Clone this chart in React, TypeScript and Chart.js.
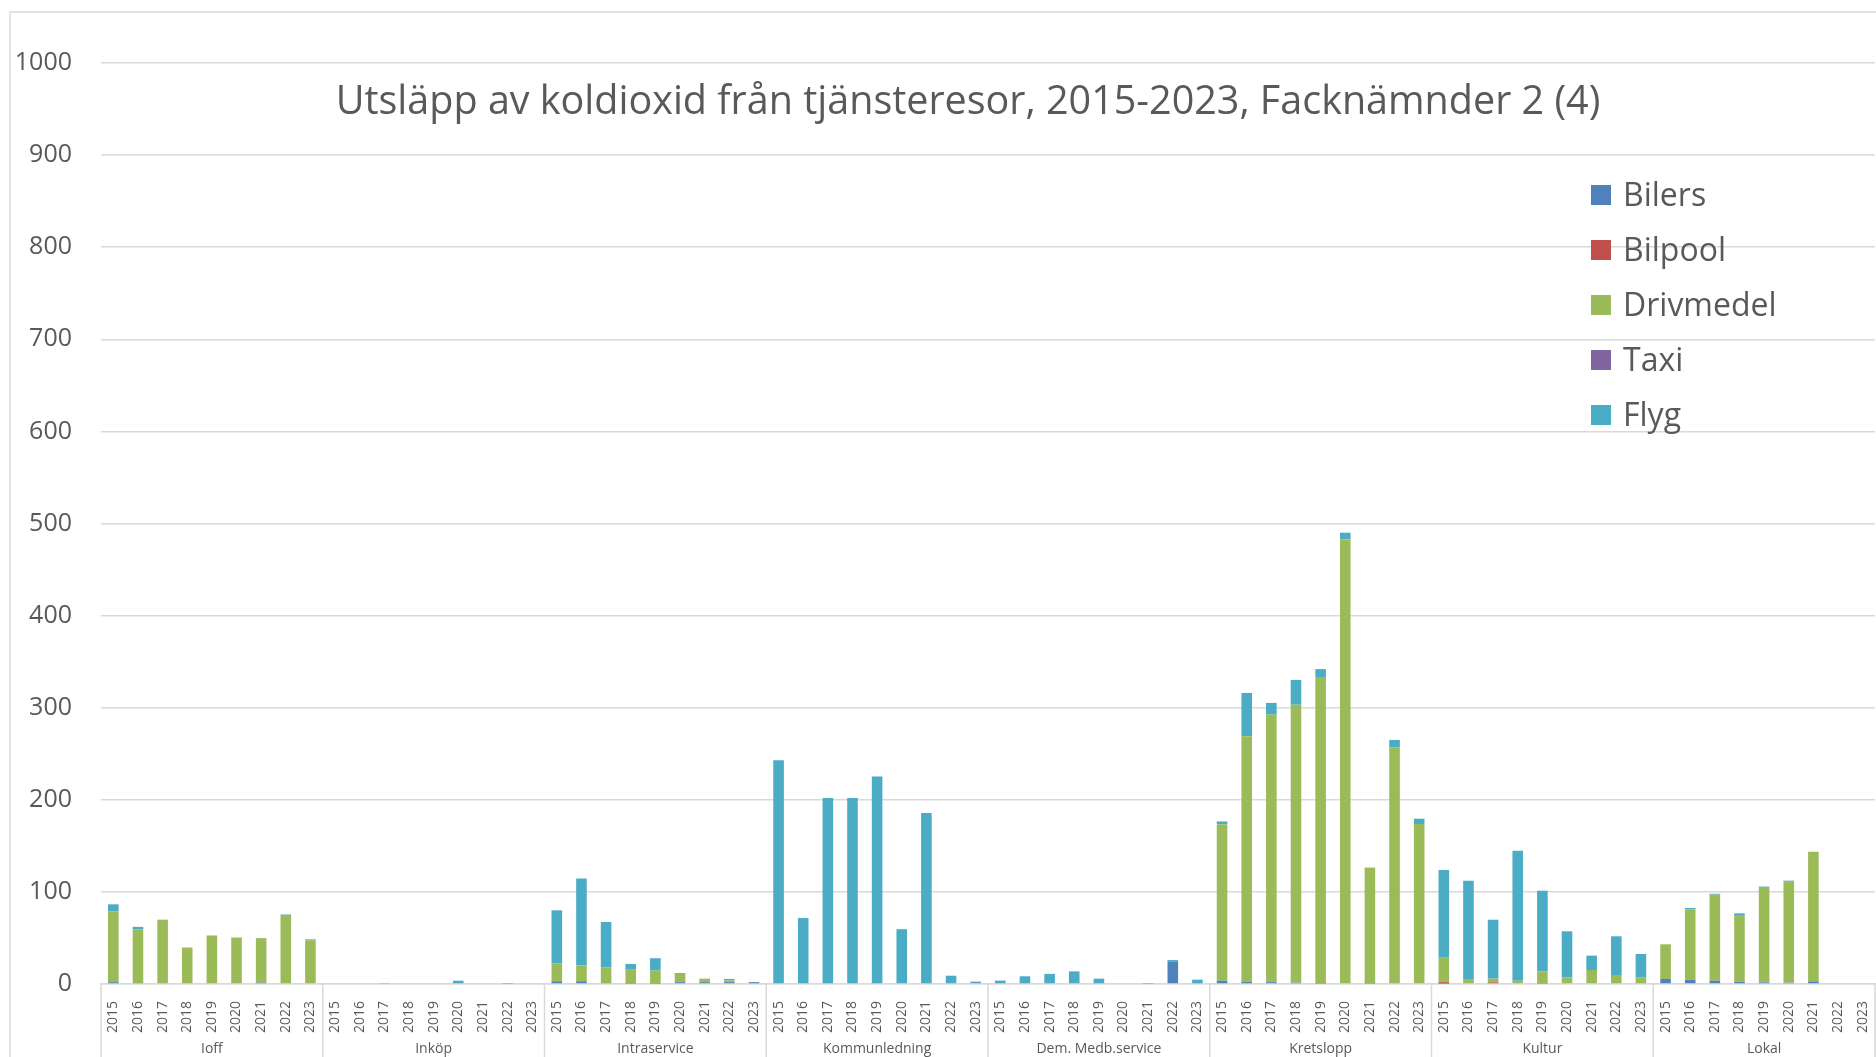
import React, { useEffect, useRef } from "react";
import { Chart, registerables } from "chart.js";

Chart.register(...registerables);

const TITLE = "Utsläpp av koldioxid från tjänsteresor, 2015-2023, Facknämnder 2 (4)";
const groups = ["Ioff", "Inköp", "Intraservice", "Kommunledning", "Dem. Medb.service", "Kretslopp", "Kultur", "Lokal"];
const years = ["2015", "2016", "2017", "2018", "2019", "2020", "2021", "2022", "2023"];
const yTicks = [0, 100, 200, 300, 400, 500, 600, 700, 800, 900, 1000];

// values per category (groups x years, in order)
const bilers = [
  2, 1, 0, 0, 0, 0, 1.5, 0, 0,
  0, 0, 0, 0, 0, 0, 0, 0, 0,
  3, 3, 1, 0.5, 0.5, 2, 2, 2, 2,
  0, 0, 0, 0, 0, 0, 0, 0, 0,
  0, 0, 0, 0, 0, 0, 0, 24, 0,
  3.5, 2.5, 2, 1.5, 0.5, 0, 0.5, 0, 0,
  0.5, 0, 0, 0, 0.5, 0, 0, 0, 0,
  5.5, 4.7, 3.6, 2.5, 1.8, 1.5, 2.9, 0, 0,
];
const bilpool = [
  0, 0, 0, 0, 0, 0, 0, 0, 0,
  0, 0, 0, 0, 0, 0, 0, 0, 0,
  0, 0, 0, 0, 0, 0, 0, 0, 0,
  1, 0, 0, 0, 0, 0, 0, 0, 0,
  0, 0, 0, 0, 0, 0, 0, 0, 0,
  0, 0, 0, 0, 0, 0, 0, 0, 0,
  1.5, 0, 1.8, 0, 0, 0, 0, 0, 0,
  0, 0, 0, 0, 0, 0, 0, 0, 0,
];
const drivmedel = [
  77, 58.5, 69.5, 39.6, 52.7, 50.5, 48.3, 75, 47.5,
  0, 0, 0, 0, 0, 0, 0, 0, 0,
  19.5, 17, 16.8, 15, 14, 10, 3.8, 2, 0,
  0, 0, 0, 0, 0, 0, 0, 0, 0,
  0, 0, 0, 0, 0, 0, 0, 0, 0,
  170, 266.5, 290.5, 301.7, 332.7, 483, 125.5, 257, 173.7,
  26.5, 5.4, 4, 3.6, 13, 7.2, 15.2, 9.8, 6.9,
  37.6, 76.3, 93.4, 72.4, 103.5, 109.5, 140.7, 0, 0,
];
const taxi = [
  0, 0, 0, 0, 0, 0, 0, 0, 0,
  0, 0, 0, 0, 0, 0, 0, 0, 0,
  0, 0, 0, 0, 0, 0, 0, 0, 0,
  0, 0, 0, 0, 0, 0, 0, 0, 0,
  0, 0, 0, 0, 0, 0, 0, 0, 0,
  0, 0, 0, 0, 0, 0, 0, 0, 0,
  0, 0, 0, 0, 0, 0, 0, 0, 0,
  0, 0, 0, 0, 0, 0, 0, 0, 0,
];
const flyg = [
  7.5, 2.5, 0.3, 0, 0, 0, 0, 0.5, 1,
  0, 0, 0.5, 0, 0, 3.6, 0, 0.3, 0,
  57.5, 94.5, 49.5, 6.3, 13.5, 0, 0, 1.5, 0.2,
  242, 71.6, 202, 202, 225.3, 59.5, 185.8, 9, 2.6,
  3.7, 8.4, 11, 13.7, 5.8, 0, 0.3, 2, 4.7,
  3, 47, 12.7, 27, 8.7, 7, 0.4, 8, 5.8,
  95.2, 106.8, 64, 141, 87.8, 50, 15.6, 42, 25.7,
  0, 1.5, 1, 1.8, 0.5, 1.2, 0, 0, 0,
];

const seriesNames = ["Bilers", "Bilpool", "Drivmedel", "Taxi", "Flyg"];
const seriesColors = ["#4F81BD", "#C0504D", "#9BBB59", "#8064A2", "#4BACC6"];
const seriesValues = [bilers, bilpool, drivmedel, taxi, flyg];

const FONT = "'Open Sans', 'Liberation Sans', sans-serif";
const TEXT = "#595959";
const GRID = "#d9d9d9";

const decorPlugin = {
  id: "decor",
  afterDraw(chart: any) {
    const ctx = chart.ctx;
    const area = chart.chartArea;
    const xs = chart.scales.x;
    ctx.save();
    // outer border
    ctx.strokeStyle = GRID;
    ctx.lineWidth = 1.5;
    ctx.strokeRect(10, 12, chart.width + 20, chart.height + 20);

    // title
    ctx.fillStyle = TEXT;
    ctx.font = `39.5px ${FONT}`;
    ctx.textAlign = "center";
    ctx.textBaseline = "alphabetic";
    ctx.fillText(TITLE, 968, 114);

    // legend
    ctx.textAlign = "left";
    ctx.font = `32px ${FONT}`;
    chart.data.datasets.forEach((ds: any, i: number) => {
      const y = 195 + i * 55;
      ctx.fillStyle = ds.backgroundColor;
      ctx.fillRect(1591, y - 10, 20, 20);
      ctx.fillStyle = TEXT;
      ctx.fillText(ds.label, 1623, y + 11);
    });

    // group separators and labels
    const n = years.length;
    ctx.strokeStyle = GRID;
    ctx.lineWidth = 1.5;
    ctx.font = `14px ${FONT}`;
    ctx.textAlign = "center";
    ctx.textBaseline = "middle";
    for (let g = 0; g <= groups.length; g++) {
      let x;
      if (g === 0) x = area.left;
      else if (g === groups.length) x = area.right;
      else x = (xs.getPixelForValue(g * n - 1) + xs.getPixelForValue(g * n)) / 2;
      ctx.beginPath();
      ctx.moveTo(x, area.bottom);
      ctx.lineTo(x, chart.height);
      ctx.stroke();
    }
    ctx.fillStyle = TEXT;
    groups.forEach((gname, g) => {
      const cx = (xs.getPixelForValue(g * n) + xs.getPixelForValue(g * n + n - 1)) / 2;
      ctx.fillText(gname, cx, 1049);
    });
    ctx.restore();
  },
};

export default function App() {
  const ref = useRef<HTMLCanvasElement | null>(null);
  useEffect(() => {
    document.body.style.margin = "0";
    const labels: string[] = [];
    groups.forEach(() => years.forEach((y) => labels.push(y)));
    const chart = new Chart(ref.current as HTMLCanvasElement, {
      type: "bar",
      data: {
        labels,
        datasets: seriesNames.map((name, i) => ({
          label: name,
          data: seriesValues[i],
          backgroundColor: seriesColors[i],
          borderWidth: 0,
          categoryPercentage: 1,
          barPercentage: 0.43,
        })),
      },
      options: {
        responsive: false,
        animation: false,
        devicePixelRatio: 1,
        layout: { padding: { top: 63, left: 0, right: 1, bottom: 0 } },
        plugins: { legend: { display: false }, title: { display: false }, tooltip: { enabled: false } },
        scales: {
          x: {
            stacked: true,
            grid: { display: false, drawTicks: false },
            border: { display: true, color: GRID, width: 1.5 },
            ticks: {
              autoSkip: false,
              maxRotation: 90,
              minRotation: 90,
              padding: 17,
              color: TEXT,
              font: { size: 14, family: FONT },
            },
            afterFit: (s: any) => {
              s.height = 73;
              s.paddingLeft = 0;
              s.paddingRight = 0;
            },
          },
          y: {
            stacked: true,
            min: 0,
            max: 1000,
            afterBuildTicks: (s: any) => {
              s.ticks = yTicks.map((v) => ({ value: v }));
            },
            grid: { color: GRID, lineWidth: 1.5, drawTicks: false },
            border: { display: false },
            ticks: {
              padding: 29,
              color: TEXT,
              font: { size: 25, family: FONT },
              callback: (v: any) => String(v),
            },
            afterFit: (s: any) => {
              s.width = 101;
            },
          },
        },
      },
      plugins: [decorPlugin],
    });
    return () => chart.destroy();
  }, []);
  return (
    <div style={{ width: 1876, height: 1057 }}>
      <canvas ref={ref} width={1876} height={1057} style={{ display: "block" }} />
    </div>
  );
}
